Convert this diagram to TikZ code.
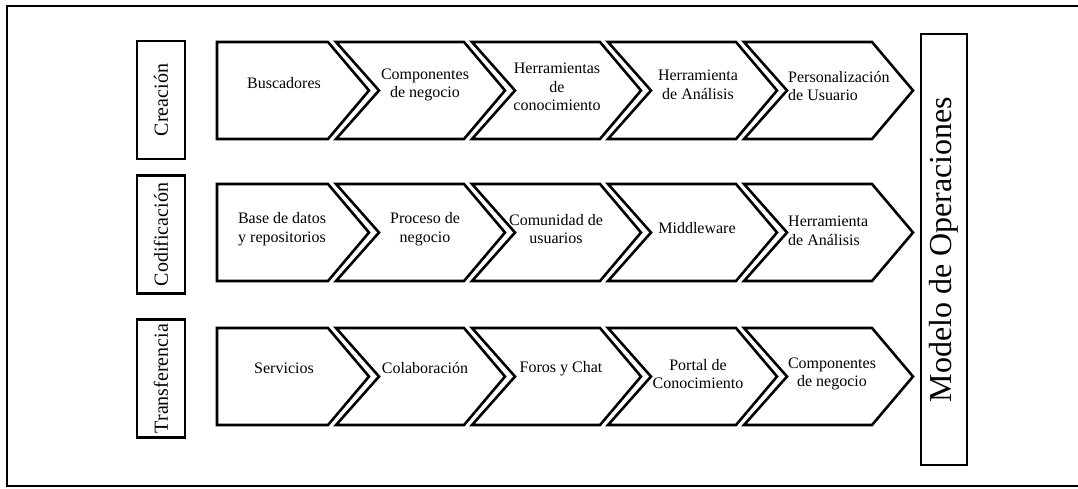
\documentclass[tikz,border=0pt]{standalone}
\usepackage{fontspec}
\setmainfont{Liberation Serif}
\begin{document}
\begin{tikzpicture}[
  x=1pt, y=-1pt,
  chevron/.style={draw, line width=2.6pt, fill=white},
  paso/.style={font=\fontsize{16}{18.5}\selectfont, align=center, inner sep=0pt},
  fase/.style={draw, line width=2.5pt, rotate=90, minimum width=118pt, minimum height=48pt, inner sep=0pt, font=\fontsize{20}{24}\selectfont},
  modelo/.style={draw, line width=2pt, rotate=90, minimum width=431pt, minimum height=46pt, inner sep=0pt, font=\fontsize{32}{38}\selectfont}
]
\useasboundingbox (0,0) rectangle (1078,489);
\draw[line width=1.6pt] (1082,6) -- (7,6) -- (7,486) -- (1082,486);

\foreach \top in {42,184,328} {
  \draw[chevron] (217,\top) -- (328,\top) -- (369,\top+48.5) -- (328,\top+97) -- (217,\top+97) -- cycle;
  \foreach \k in {1,...,4} {
    \pgfmathsetmacro\S{328+136*\k}
    \pgfmathsetmacro\L{\S-128}
    \draw[chevron] (\L,\top) -- (\S,\top) -- (\S+41,\top+48.5) -- (\S,\top+97) -- (\L,\top+97) -- (\L+43,\top+48.5) -- cycle;
  }
}

\node[fase] (creacion) at (161,100) {Creación};
\node[fase] (codificacion) at (161,234.5) {Codificación};
\node[fase] (transferencia) at (161,378.5) {Transferencia};
\node[modelo] (operaciones) at (944,249.5) {Modelo de Operaciones};

\node[paso] (buscadores) at (284,83) {Buscadores};
\node[paso] (componentes) at (425,85) {Componentes\\de negocio};
\node[paso] (herramientas) at (557,87) {Herramientas\\de\\conocimiento};
\node[paso] (analisis) at (698,85) {Herramienta\\de Análisis};
\node[paso, align=left, anchor=west] (personalizacion) at (788,86) {Personalización\\de Usuario};

\node[paso] (basedatos) at (282,229) {Base de datos\\y repositorios};
\node[paso] (proceso) at (425,229) {Proceso de\\negocio};
\node[paso] (comunidad) at (556,229) {Comunidad de\\usuarios};
\node[paso] (middleware) at (697,228) {Middleware};
\node[paso, align=left, anchor=west] (analisisdos) at (788,231) {Herramienta\\de Análisis};

\node[paso] (servicios) at (284,368) {Servicios};
\node[paso] (colaboracion) at (425,368) {Colaboración};
\node[paso] (foros) at (561,369) {Foros y Chat};
\node[paso] (portal) at (698,374) {Portal de\\Conocimiento};
\node[paso] (componentesdos) at (832,374) {Componentes\\de negocio};
\end{tikzpicture}
\end{document}
